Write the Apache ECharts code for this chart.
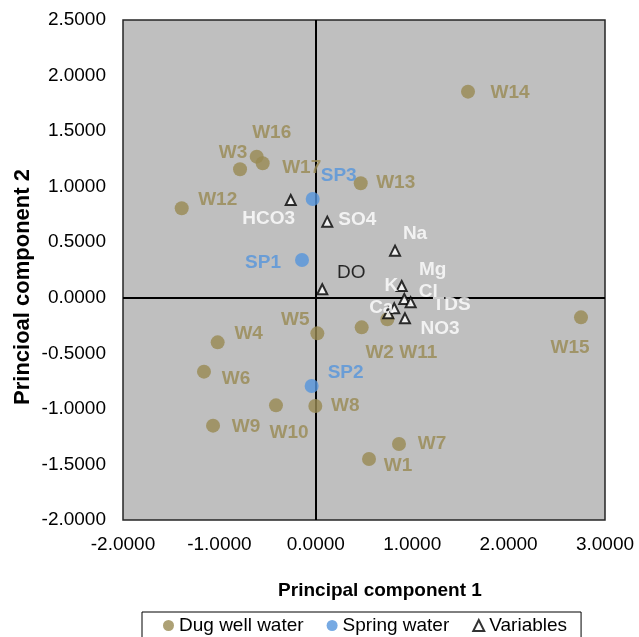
<!DOCTYPE html>
<html>
<head>
<meta charset="utf-8">
<script src="https://cdn.jsdelivr.net/npm/echarts@6/dist/echarts.min.js"></script>
<style>
  html, body { margin: 0; padding: 0; background: #fff; }
  #chart { width: 639px; height: 637px; }
</style>
</head>
<body>
<div id="chart"></div>
<script>
// PCA scores of water samples and loadings of the measured variables
const dugWellNames = ['W1','W2','W3','W4','W5','W6','W7','W8','W9','W10','W11','W12','W13','W14','W15','W16','W17'];
const dugWellPC1 = [0.552, 0.476, -0.786, -1.018, 0.016, -1.160, 0.863, -0.005, -1.066, -0.413, 0.742, -1.391, 0.466, 1.579, 2.751, -0.613, -0.551];
const dugWellPC2 = [-1.451, -0.266, 1.157, -0.401, -0.320, -0.665, -1.316, -0.974, -1.151, -0.968, -0.194, 0.806, 1.031, 1.855, -0.176, 1.270, 1.211];

const springNames = ['SP1','SP2','SP3'];
const springPC1 = [-0.143, -0.043, -0.032];
const springPC2 = [0.340, -0.794, 0.889];

const variableNames = ['HCO3','SO4','Na','DO','K','Mg','Cl','TDS','Ca','NO3'];
const variablePC1 = [-0.260, 0.119, 0.822, 0.067, 0.814, 0.891, 0.918, 0.984, 0.752, 0.925];
const variablePC2 = [0.880, 0.685, 0.424, 0.077, -0.095, 0.106, -0.011, -0.041, -0.140, -0.185];

const xTicks = [-2, -1, 0, 1, 2, 3];
const yTicks = [-2, -1.5, -1, -0.5, 0, 0.5, 1, 1.5, 2, 2.5];

// label placement (pixel offsets from each marker)
const labelOffsets = {
  W1: [29, 7], W2: [18, 25], W3: [-7, -16], W4: [31, -9], W5: [-22, -14],
  W6: [32, 7], W7: [33, 0], W8: [30, 0], W9: [33, 1], W10: [13, 27],
  W11: [31, 33], W12: [36, -8], W13: [35, 0], W14: [42, 1], W15: [-11, 30],
  W16: [15, -24], W17: [39, 5],
  SP1: [-39, 3], SP2: [34, -13], SP3: [26, -23],
  HCO3: [-22, 19], SO4: [30, -2], Na: [20, -17], DO: [29, -16], K: [-3, -23],
  Mg: [31, -16], Cl: [24, -7], TDS: [41, 2], Ca: [-7, -6], NO3: [35, 10]
};

const FONT = "'Liberation Sans', Arial, Helvetica, sans-serif";
const OLIVE = '#988A53';
const BLUE = '#5595DC';

function buildPoints(names, xs, ys, extra) {
  return names.map((n, i) => {
    const item = { name: n, value: [xs[i], ys[i]], label: { offset: labelOffsets[n] } };
    if (extra && extra[n]) Object.assign(item.label, extra[n]);
    return item;
  });
}

const chart = echarts.init(document.getElementById('chart'), null, { renderer: 'canvas' });

const option = {
  animation: false,
  backgroundColor: '#ffffff',
  grid: {
    left: 123, right: 34, top: 20, bottom: 117,
    show: true, backgroundColor: '#BFBFBF', borderColor: '#262626', borderWidth: 1.5
  },
  xAxis: {
    type: 'value', min: xTicks[0], max: xTicks[xTicks.length - 1], interval: 1,
    axisLine: { show: false }, axisTick: { show: false }, splitLine: { show: false },
    axisLabel: {
      margin: 15, color: '#000', fontSize: 19, fontFamily: FONT,
      formatter: v => v.toFixed(4)
    }
  },
  yAxis: {
    type: 'value', min: yTicks[0], max: yTicks[yTicks.length - 1], interval: 0.5,
    axisLine: { show: false }, axisTick: { show: false }, splitLine: { show: false },
    axisLabel: {
      margin: 17, color: '#000', fontSize: 19, fontFamily: FONT,
      formatter: v => v.toFixed(4)
    }
  },
  legend: {
    left: 142, top: 612,
    itemWidth: 11, itemHeight: 11, itemGap: 23,
    padding: [4, 14, 10, 21],
    borderColor: '#000', borderWidth: 1, backgroundColor: '#fff',
    textStyle: { fontSize: 19, color: '#000', fontFamily: FONT },
    data: [
      { name: 'Dug well water', icon: 'circle' },
      { name: 'Spring water', icon: 'circle' },
      { name: 'Variables', icon: 'triangle' }
    ]
  },
  graphic: [
    {
      type: 'text', x: 380, y: 591,
      style: {
        text: 'Principal component 1', font: 'bold 19px ' + FONT,
        fill: '#000', textAlign: 'center', textVerticalAlign: 'middle'
      }
    },
    {
      type: 'text', x: 23, y: 287, rotation: Math.PI / 2,
      style: {
        text: 'Princioal component 2', font: 'bold 22px ' + FONT,
        fill: '#000', textAlign: 'center', textVerticalAlign: 'middle'
      }
    }
  ],
  series: [
    {
      name: 'Variables', type: 'scatter', symbol: 'triangle', symbolSize: 10, z: 3,
      itemStyle: { color: '#fff', borderColor: '#000', borderWidth: 2 },
      label: {
        show: true, position: 'inside', formatter: '{b}',
        fontSize: 19, fontWeight: 'bold', color: '#fff', fontFamily: FONT
      },
      data: buildPoints(variableNames, variablePC1, variablePC2, {
        DO: { color: '#000', fontWeight: 'normal' }
      }),
      markLine: {
        silent: true, z: 1, symbol: ['none', 'none'],
        label: { show: false },
        lineStyle: { color: '#000', width: 2, type: 'solid' },
        data: [{ xAxis: 0 }, { yAxis: 0 }]
      }
    },
    {
      name: 'Dug well water', type: 'scatter', symbol: 'circle', symbolSize: 14, z: 2,
      itemStyle: { color: OLIVE },
      label: {
        show: true, position: 'inside', formatter: '{b}',
        fontSize: 19, fontWeight: 'bold', color: OLIVE, fontFamily: FONT
      },
      data: buildPoints(dugWellNames, dugWellPC1, dugWellPC2)
    },
    {
      name: 'Spring water', type: 'scatter', symbol: 'circle', symbolSize: 14, z: 2,
      itemStyle: { color: BLUE },
      label: {
        show: true, position: 'inside', formatter: '{b}',
        fontSize: 19, fontWeight: 'bold', color: BLUE, fontFamily: FONT
      },
      data: buildPoints(springNames, springPC1, springPC2)
    }
  ]
};

chart.setOption(option);
</script>
</body>
</html>
